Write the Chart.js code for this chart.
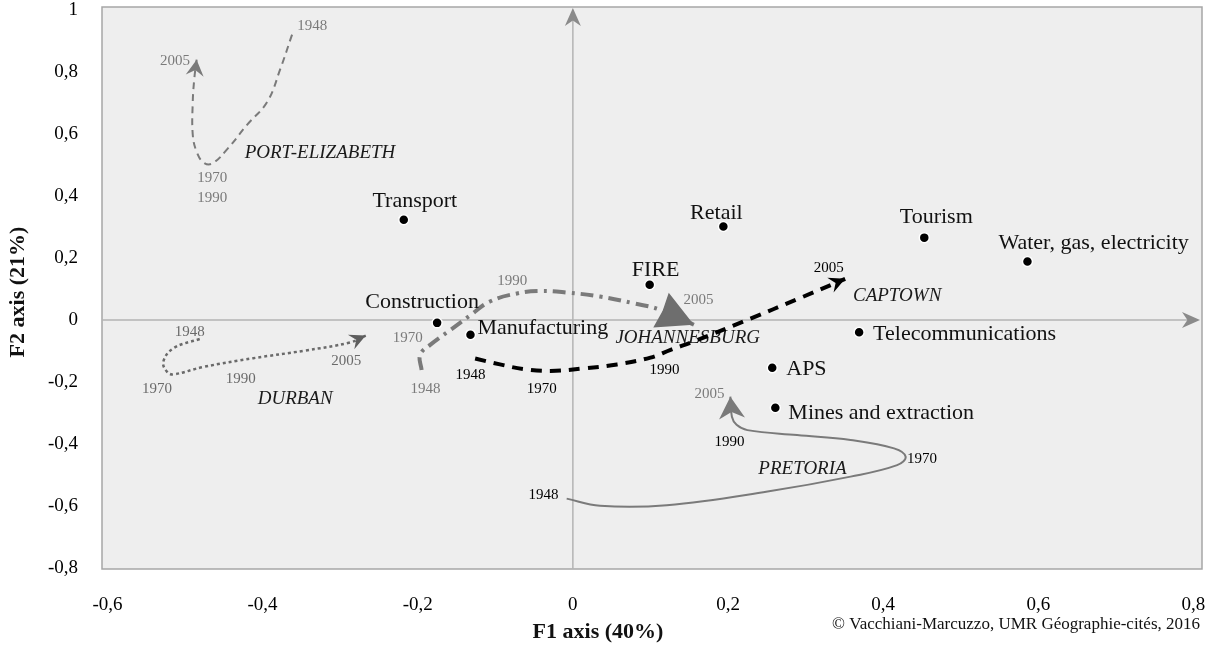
<!DOCTYPE html>
<html lang="en">
<head>
<meta charset="UTF-8">
<title>F1 / F2 factorial plane</title>
<script src="https://cdn.jsdelivr.net/npm/chart.js"></script>
<style>
  html, body { margin:0; padding:0; background:#fff; }
  #wrap { width:1212px; height:659px; }
</style>
</head>
<body>
<div id="wrap"><canvas id="chart" width="1212" height="659"></canvas></div>
<script>
// axis ticks
const xTicks = [-0.6, -0.4, -0.2, 0, 0.2, 0.4, 0.6, 0.8];
const yTicks = [-0.8, -0.6, -0.4, -0.2, 0, 0.2, 0.4, 0.6, 0.8, 1];

// sectors projected on F1 / F2
const sectors = ['Transport', 'Retail', 'Tourism', 'Water, gas, electricity', 'FIRE',
  'Construction', 'Manufacturing', 'Telecommunications', 'APS', 'Mines and extraction'];
const sectorF1 = [-0.218, 0.194, 0.453, 0.586, 0.099, -0.175, -0.132, 0.369, 0.257, 0.261];
const sectorF2 = [0.324, 0.302, 0.266, 0.189, 0.114, -0.009, -0.047, -0.039, -0.154, -0.283];

// city trajectories 1948 -> 2005
const peF1 = [-0.362, -0.377, -0.394, -0.420, -0.445, -0.465, -0.476, -0.485, -0.490, -0.490, -0.488, -0.485];
const peF2 = [0.921, 0.811, 0.704, 0.630, 0.553, 0.505, 0.508, 0.543, 0.598, 0.704, 0.779, 0.840];
const durF1 = [-0.481, -0.515, -0.528, -0.523, -0.515, -0.476, -0.412, -0.347, -0.287, -0.267];
const durF2 = [-0.061, -0.091, -0.135, -0.167, -0.175, -0.151, -0.123, -0.099, -0.072, -0.050];
const jhbF1 = [-0.195, -0.197, -0.184, -0.158, -0.132, -0.107, -0.072, -0.042, -0.008, 0.035, 0.079, 0.113, 0.156];
const jhbF2 = [-0.161, -0.112, -0.080, -0.032, 0.016, 0.060, 0.086, 0.094, 0.089, 0.076, 0.054, 0.033, -0.015];
const cptF1 = [-0.126, -0.094, -0.063, -0.029, 0.014, 0.057, 0.100, 0.126, 0.161, 0.229, 0.289, 0.351];
const cptF2 = [-0.124, -0.143, -0.158, -0.164, -0.156, -0.143, -0.121, -0.096, -0.064, 0.005, 0.067, 0.133];
const ptaF1 = [-0.008, 0.035, 0.121, 0.251, 0.358, 0.418, 0.429, 0.414, 0.358, 0.289, 0.225, 0.211, 0.205, 0.203];
const ptaF2 = [-0.576, -0.599, -0.597, -0.553, -0.505, -0.468, -0.441, -0.414, -0.387, -0.371, -0.355, -0.338, -0.312, -0.247];

// year labels (1948, 1970, 1990, 2005) per city
const years = ['1948', '1970', '1990', '2005'];
const peYearF1 = [-0.336, -0.465, -0.465, -0.513];
const peYearF2 = [0.950, 0.457, 0.395, 0.836];
const durYearF1 = [-0.494, -0.536, -0.428, -0.292];
const durYearF2 = [-0.038, -0.221, -0.189, -0.132];
const jhbYearF1 = [-0.190, -0.213, -0.078, 0.162];
const jhbYearF2 = [-0.224, -0.057, 0.127, 0.066];
const cptYearF1 = [-0.132, -0.040, 0.118, 0.330];
const cptYearF2 = [-0.176, -0.221, -0.160, 0.169];
const ptaYearF1 = [-0.038, 0.450, 0.202, 0.176];
const ptaYearF2 = [-0.564, -0.447, -0.392, -0.240];

const cities = ['PORT-ELIZABETH', 'DURBAN', 'JOHANNESBURG', 'CAPTOWN', 'PRETORIA'];
const cityF1 = [-0.326, -0.358, 0.148, 0.418, 0.296];
const cityF2 = [0.540, -0.253, -0.057, 0.079, -0.479];

// label placement (pixels from the dot)
const sectorLabelPos = [
  { dx: 11, dy: -18, align: 'center' }, { dx: -7, dy: -13, align: 'center' },
  { dx: 12, dy: -20, align: 'center' }, { dx: -29, dy: -18, align: 'left' },
  { dx: 6, dy: -15, align: 'center' }, { dx: -15, dy: -21, align: 'center' },
  { dx: 7, dy: -6, align: 'left' }, { dx: 14, dy: 2, align: 'left' },
  { dx: 14, dy: 1, align: 'left' }, { dx: 13, dy: 5, align: 'left' }
];

const SERIF = "'Liberation Serif', 'Times New Roman', serif";
const GREY = '#7a7a7a';
const fmt = v => String(Math.round(v * 10) / 10).replace('.', ',');
const pts = (xs, ys) => xs.map((v, i) => ({ x: v, y: ys[i] }));

const yearSets = [
  { xs: peYearF1, ys: peYearF2, color: [GREY, GREY, GREY, GREY] },
  { xs: durYearF1, ys: durYearF2, color: ['#6a6a6a', '#6a6a6a', '#6a6a6a', '#6a6a6a'] },
  { xs: jhbYearF1, ys: jhbYearF2, color: [GREY, GREY, GREY, GREY] },
  { xs: cptYearF1, ys: cptYearF2, color: ['#000', '#000', '#000', '#000'] },
  { xs: ptaYearF1, ys: ptaYearF2, color: ['#000', '#000', '#000', GREY] }
];

function arrowHead(ctx, tx, ty, ang, len, half, notch, color) {
  ctx.save();
  ctx.translate(tx, ty);
  ctx.rotate(ang);
  ctx.fillStyle = color;
  ctx.beginPath();
  ctx.moveTo(0, 0);
  ctx.lineTo(-len, -half);
  ctx.lineTo(-len * (1 - notch), 0);
  ctx.lineTo(-len, half);
  ctx.closePath();
  ctx.fill();
  ctx.restore();
}

const plotDecor = {
  id: 'plotDecor',
  beforeDraw(chart) {
    const { ctx, chartArea: a } = chart;
    ctx.save();
    ctx.fillStyle = '#eeeeee';
    ctx.fillRect(a.left, a.top, a.right - a.left, a.bottom - a.top);
    ctx.restore();
  },
  beforeDatasetsDraw(chart) {
    const { ctx, chartArea: a, scales: { x, y } } = chart;
    const x0 = x.getPixelForValue(0), y0 = y.getPixelForValue(0);
    ctx.save();
    ctx.strokeStyle = '#a6a6a6';
    ctx.lineWidth = 1.5;
    ctx.strokeRect(a.left, a.top, a.right - a.left, a.bottom - a.top);
    ctx.strokeStyle = '#b4b4b4';
    ctx.lineWidth = 1.5;
    ctx.beginPath();
    ctx.moveTo(a.left, y0); ctx.lineTo(a.right - 10, y0);
    ctx.moveTo(x0, a.bottom); ctx.lineTo(x0, a.top + 10);
    ctx.stroke();
    arrowHead(ctx, a.right - 2, y0, 0, 18, 8, 0.3, '#8a8a8a');
    arrowHead(ctx, x0, a.top + 1, -Math.PI / 2, 18, 8, 0.3, '#8a8a8a');

    // tick labels, placed with the chart's own scales
    ctx.fillStyle = '#000';
    ctx.font = '19px ' + SERIF;
    ctx.textBaseline = 'middle';
    ctx.textAlign = 'center';
    xTicks.forEach(v => ctx.fillText(fmt(v), x.getPixelForValue(v), a.bottom + 36));
    ctx.textAlign = 'right';
    yTicks.forEach(v => ctx.fillText(fmt(v), a.left - 24, y.getPixelForValue(v)));

    // city names sit under the trajectories
    ctx.font = 'italic 19px ' + SERIF;
    ctx.fillStyle = '#1a1a1a';
    ctx.textAlign = 'center';
    cities.forEach((c, i) => ctx.fillText(c, x.getPixelForValue(cityF1[i]), y.getPixelForValue(cityF2[i])));
    ctx.restore();
  },
  afterDatasetsDraw(chart) {
    const { ctx, scales: { x, y } } = chart;
    ctx.save();
    // arrow heads at the 2005 end of each trajectory
    chart.data.datasets.forEach((ds, i) => {
      if (!ds.arrow) return;
      const el = chart.getDatasetMeta(i).data;
      const p = el[el.length - 1];
      let q = { x: p.cp1x, y: p.cp1y };
      if (q.x === undefined || Math.hypot(p.x - q.x, p.y - q.y) < 2) q = el[el.length - 2];
      const ang = Math.atan2(p.y - q.y, p.x - q.x);
      const h = ds.arrow;
      arrowHead(ctx, p.x, p.y, ang, h.len, h.half, h.notch, h.color);
    });

    // year labels
    ctx.font = '15px ' + SERIF;
    ctx.textAlign = 'center';
    ctx.textBaseline = 'middle';
    yearSets.forEach(s => {
      years.forEach((yr, k) => {
        ctx.fillStyle = s.color[k];
        ctx.fillText(yr, x.getPixelForValue(s.xs[k]), y.getPixelForValue(s.ys[k]));
      });
    });

    // sector labels
    ctx.font = '22px ' + SERIF;
    ctx.fillStyle = '#111';
    sectors.forEach((name, i) => {
      const lp = sectorLabelPos[i];
      ctx.textAlign = lp.align;
      ctx.fillText(name, x.getPixelForValue(sectorF1[i]) + lp.dx, y.getPixelForValue(sectorF2[i]) + lp.dy);
    });
    ctx.restore();
  },
  afterDraw(chart) {
    const { ctx } = chart;
    ctx.save();
    ctx.fillStyle = '#111';
    ctx.textBaseline = 'middle';
    ctx.font = 'bold 22px ' + SERIF;
    ctx.textAlign = 'center';
    ctx.fillText('F1 axis (40%)', 598, 632);
    ctx.translate(18, 292);
    ctx.rotate(-Math.PI / 2);
    ctx.fillText('F2 axis (21%)', 0, 0);
    ctx.restore();
    ctx.save();
    ctx.fillStyle = '#111';
    ctx.font = '17px ' + SERIF;
    ctx.textAlign = 'right';
    ctx.textBaseline = 'middle';
    ctx.fillText('© Vacchiani-Marcuzzo, UMR Géographie-cités, 2016', 1200, 625);
    ctx.restore();
  }
};

const trajectory = (data, color, width, dash, arrow) => ({
  data, showLine: true, borderColor: color, borderWidth: width, borderDash: dash,
  borderCapStyle: 'butt', tension: 0.4, pointRadius: 0, pointHoverRadius: 0, fill: false, arrow
});

new Chart(document.getElementById('chart'), {
  type: 'scatter',
  data: {
    datasets: [
      {
        data: pts(sectorF1, sectorF2), pointRadius: 5, pointHoverRadius: 5,
        backgroundColor: '#000', borderColor: '#fff', borderWidth: 1.5
      },
      trajectory(pts(peF1, peF2), GREY, 2, [7, 5], { len: 16, half: 9, notch: 0.35, color: GREY }),
      trajectory(pts(durF1, durF2), '#6a6a6a', 2.5, [3, 3], { len: 16, half: 8, notch: 0.35, color: '#5e5e5e' }),
      trajectory(pts(jhbF1, jhbF2), GREY, 4, [13, 6, 3, 6], { len: 36, half: 19, notch: 0.05, color: '#6e6e6e' }),
      trajectory(pts(cptF1, cptF2), '#000', 4, [11, 8], { len: 16, half: 8, notch: 0.35, color: '#000' }),
      trajectory(pts(ptaF1, ptaF2), GREY, 2, [], { len: 22, half: 13, notch: 0.3, color: GREY })
    ]
  },
  options: {
    responsive: false,
    devicePixelRatio: 1,
    animation: false,
    layout: { padding: { left: 0, right: 10, top: 7, bottom: 0 } },
    plugins: { legend: { display: false }, tooltip: { enabled: false } },
    scales: {
      x: {
        type: 'linear', min: -0.607, max: 0.811,
        afterFit: s => { s.height = 90; },
        grid: { display: false, drawTicks: false },
        border: { display: false },
        ticks: { display: false }
      },
      y: {
        type: 'linear', min: -0.803, max: 1.01,
        afterFit: s => { s.width = 102; },
        grid: { display: false, drawTicks: false },
        border: { display: false },
        ticks: { display: false }
      }
    }
  },
  plugins: [plotDecor]
});
</script>
</body>
</html>
